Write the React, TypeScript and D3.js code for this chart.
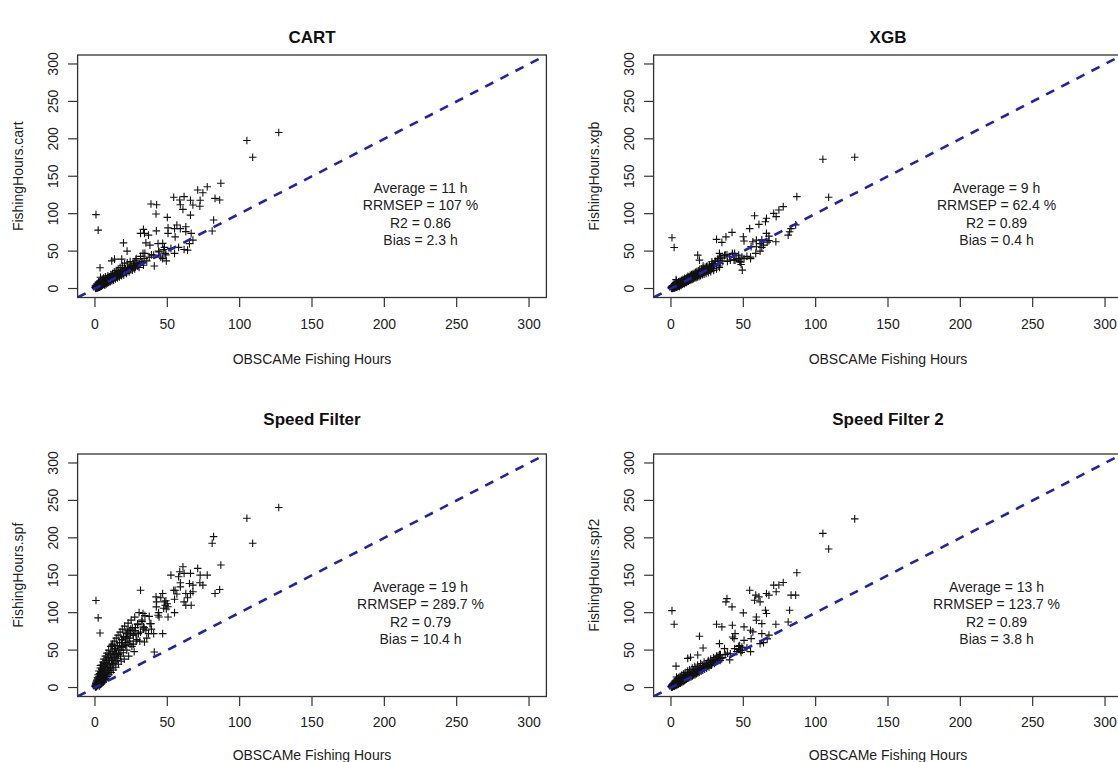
import React from 'react';
import * as d3 from 'd3';

// observed OBSCAMe fishing hours (shared x for every panel)
const obsHours = [
  0.2, 0.4, 0.5, 0.7, 0.8, 1.0, 1.1, 1.3, 1.5, 1.6, 1.8, 2.0, 2.1, 2.3, 2.5, 2.7, 2.9, 3.0, 3.2, 3.4,
  3.6, 3.8, 4.0, 4.2, 4.4, 4.6, 4.9, 5.1, 5.3, 5.6, 5.8, 6.0, 6.3, 6.5, 6.8, 7.0, 7.3, 7.6, 7.9, 8.2,
  8.5, 8.8, 9.1, 9.4, 9.7, 10.0, 10.4, 10.8, 11.2, 11.5, 11.9, 12.3, 12.7, 13.1, 13.5, 14.0, 14.4, 14.9, 15.3, 15.8,
  16.2, 16.7, 17.1, 17.6, 18.1, 18.6, 19.1, 19.6, 20.2, 20.8, 21.4, 22.0, 22.6, 23.3, 24.0, 24.7, 25.5, 26.3, 27.1, 28.0,
  29.0, 30.0,
  0.7, 2.2, 3.5, 3.8, 11.6, 13.5, 18.5, 19.7, 22.2, 24.6, 28.3, 31.5, 33.2, 33.5, 34.2, 35.2, 37, 38, 38.7, 40.6,
  41, 42.2, 42.4, 42.6, 43.6, 44.3, 46.8, 46.8, 48, 48.5, 49.3, 50, 50.5, 50.5, 52.5, 54.4, 55, 55, 55.4, 56.6,
  57.8, 58.6, 59, 59, 60.8, 61.6, 61.6, 62.8, 62.8, 64, 65.3, 66, 66, 66.5, 67.7, 67.7, 71, 72.7, 72.5, 74.6,
  77.6, 81, 82, 83, 86.2, 87, 105, 109, 127,
  31, 32.5, 34, 35.8, 37.5, 39, 44, 45.5, 47.5, 49, 26.5, 27.5, 29.5, 23.5, 21, 16, 12, 8, 5,
  0.3, 0.6, 0.9, 1.2, 1.4, 1.7, 1.9, 2.2, 2.4, 2.6, 2.8, 3.1, 3.3, 3.5, 3.7, 3.9, 4.1, 4.3, 4.5, 4.8,
  5.0, 5.2, 5.5, 5.7, 5.9, 6.2, 6.4, 6.7, 6.9, 7.2, 7.5, 7.8, 8.0, 8.3, 8.6, 8.9, 9.2, 9.5, 9.8, 10.2,
  10.6, 11.0, 11.4, 11.7, 12.1, 12.5, 12.9, 13.3, 13.8, 14.2, 14.7, 15.1, 15.6, 16.0, 16.5, 16.9, 17.4, 17.9, 18.4, 18.9,
  19.4, 19.9, 20.5, 21.1, 21.7, 22.3, 22.9, 23.6, 24.3, 25.0, 25.8, 26.6, 27.5, 28.5, 29.5, 30.5, 31.5, 32.5, 33.5, 34.5,
];

const cartHours = [
  1.5, 0.6, 2.4, 1.1, 3.0, 0.9, 2.2, 4.1, 1.6, 3.3, 2.0, 5.2, 2.7, 1.4, 4.6, 3.1, 6.0, 2.5, 4.8, 3.9,
  7.2, 3.0, 5.5, 4.1, 8.0, 5.0, 6.6, 4.5, 9.1, 5.8, 7.4, 6.2, 10.2, 5.9, 8.3, 7.0, 11.4, 7.5, 9.6, 8.1,
  12.6, 8.9, 10.8, 9.2, 13.9, 10.1, 12.0, 11.3, 15.2, 11.8, 13.6, 12.7, 16.8, 13.9, 15.4, 14.6, 18.3, 15.7, 17.2, 16.4,
  20.0, 17.5, 19.1, 18.4, 21.8, 19.4, 21.0, 20.3, 23.6, 21.9, 24.8, 22.8, 25.7, 24.0, 27.4, 25.3, 29.0, 27.1, 30.6, 29.2,
  32.4, 31.0,
  98.7, 78, 27.7, 15, 37, 39.3, 39.3, 61, 50, 26.8, 38, 73.7, 47, 79, 73.7, 61, 71.4, 58, 113, 44.6,
  30, 99.6, 77, 112, 60, 49, 40, 60.3, 55, 47, 37, 95, 81, 73.7, 53.6, 121.9, 80, 47, 69, 84.8,
  55, 118.3, 112, 80, 105.8, 122.8, 52.2, 82.6, 76, 51.3, 60, 118, 98, 73.7, 111.6, 64.7, 131.7, 118, 110, 128,
  136, 76.8, 91.5, 120.5, 118.3, 140.6, 197.8, 175.4, 208.5,
  33, 36, 40, 37, 42, 45, 50, 42, 52, 45, 31, 34, 30, 28, 26, 22, 17, 12, 8,
  3.5, 0.2, 4.8, 2.0, 6.2, 0.8, 5.0, 3.6, 8.5, 1.5, 6.9, 4.0, 1.8, 9.8, 5.2, 2.6, 11.0, 6.1, 3.0, 8.4,
  12.5, 4.2, 9.0, 6.6, 14.0, 5.1, 10.8, 8.2, 4.5, 15.5, 9.9, 6.0, 13.2, 11.0, 7.4, 17.0, 12.4, 8.0, 15.0, 13.0,
  9.2, 18.5, 14.6, 10.5, 20.0, 16.0, 11.0, 22.0, 17.5, 12.8, 24.0, 19.0, 14.0, 26.0, 21.0, 15.5, 28.0, 22.5, 17.0, 30.5,
  24.0, 18.2, 33.0, 26.0, 20.0, 34.5, 28.0, 22.0, 36.0, 30.0, 24.5, 33.0, 26.0, 40.0, 31.0, 28.0, 43.0, 35.0, 31.0, 47.0,
];

const xgbHours = [
  0.8, 1.4, 0.3, 2.2, 1.0, 3.1, 0.5, 1.9, 3.8, 1.2, 2.6, 0.9, 4.5, 2.0, 3.3, 1.6, 5.2, 2.4, 6.1, 2.9,
  4.0, 5.8, 3.0, 7.0, 4.6, 3.4, 6.8, 4.2, 7.9, 5.0, 3.9, 8.4, 5.9, 7.1, 4.8, 9.2, 6.6, 8.0, 5.7, 10.3,
  7.4, 9.5, 6.9, 11.6, 8.5, 10.6, 8.2, 12.8, 9.9, 12.1, 10.4, 14.2, 11.3, 13.6, 12.0, 15.5, 12.9, 15.0, 14.1, 17.3,
  15.2, 16.9, 15.8, 18.9, 16.7, 19.8, 17.9, 21.2, 18.8, 22.4, 20.3, 23.8, 21.6, 24.9, 22.8, 26.5, 24.1, 27.8, 25.5, 29.4,
  27.0, 31.6,
  67.9, 54.9, 12, 10, 14, 16, 44.6, 38, 30, 29, 35.7, 65.6, 30, 47, 42, 61.6, 44, 69, 45, 42.4,
  38, 75, 47, 46, 38, 38, 44.6, 40, 35, 32, 24.6, 69.2, 63.4, 40, 43, 80, 40, 42, 56, 62.5,
  97.3, 46.9, 55.8, 64.7, 85.7, 60, 50, 55, 65, 58, 89.3, 93.8, 73.7, 62, 70, 64, 100.4, 96, 62.5, 105,
  109.4, 71.4, 75.9, 80, 85, 122.8, 172.8, 121.9, 175.4,
  36, 40, 33, 37, 45, 36, 47, 40, 36, 42, 26, 29, 33, 22, 20, 18, 11, 9, 6,
  2.0, 0.1, 3.2, 0.6, 4.0, 1.1, 3.5, 0.9, 5.5, 2.0, 1.0, 4.8, 2.4, 6.5, 1.9, 5.6, 3.0, 7.8, 2.5, 6.2,
  3.1, 8.9, 4.0, 7.5, 2.8, 9.6, 5.0, 8.8, 4.1, 11.0, 5.6, 10.2, 6.1, 12.4, 7.0, 11.6, 6.4, 13.8, 8.0, 12.9,
  8.1, 14.8, 9.5, 16.2, 9.9, 15.8, 11.0, 17.5, 11.4, 18.6, 12.2, 19.4, 13.1, 20.3, 14.0, 21.6, 14.4, 22.8, 15.6, 23.7,
  16.2, 24.8, 17.0, 26.0, 18.3, 27.1, 19.0, 28.5, 20.2, 30.0, 21.0, 31.2, 22.6, 33.0, 24.0, 36.5, 26.0, 38.0, 28.0, 40.5,
];

const spfHours = [
  1.2, 3.5, 0.8, 5.2, 2.0, 7.5, 1.4, 4.0, 10.2, 2.6, 6.4, 12.5, 3.1, 8.8, 15.0, 4.6, 11.0, 2.2, 18.5, 7.0,
  13.2, 4.2, 21.0, 9.5, 16.0, 5.5, 25.0, 11.8, 19.0, 7.2, 28.5, 14.0, 22.0, 9.0, 32.0, 17.5, 12.0, 26.0, 36.0, 20.0,
  14.5, 30.0, 40.0, 23.0, 17.0, 34.0, 44.0, 26.5, 20.0, 38.0, 48.0, 30.0, 23.5, 42.0, 52.0, 34.0, 27.0, 46.0, 56.0, 38.5,
  31.0, 50.0, 60.0, 42.0, 35.0, 54.0, 64.0, 46.5, 38.0, 58.0, 68.0, 50.0, 74.0, 42.0, 62.0, 78.0, 55.0, 70.0, 48.0, 80.0,
  64.0, 72.0,
  116.2, 93, 72.9, 29.5, 56.4, 45.3, 54.2, 67.6, 76.5, 72, 72, 130, 98.8, 81, 60.8, 76.5, 72, 85.4, 85.4, 72,
  47.4, 121.1, 107.7, 114.4, 96.6, 94.3, 125.6, 72, 114.4, 110, 105, 112, 94.3, 108, 150.2, 130, 118, 100, 130, 125,
  148, 154.7, 134.5, 140, 161.4, 152.5, 114.4, 125.6, 110, 120, 139, 152.5, 125.6, 110, 136.8, 128, 159.2, 150.2, 140, 136.8,
  150.2, 192.7, 201.6, 125.6, 131, 163.6, 226.2, 192.7, 240.5,
  62, 90, 80, 66, 95, 78, 100, 120, 106, 116, 58, 76, 85, 66, 56, 44, 36, 32, 20,
  2.5, 6.0, 1.5, 9.0, 4.0, 13.0, 2.8, 17.0, 6.5, 11.0, 22.0, 5.0, 15.0, 8.5, 26.0, 12.0, 4.6, 19.5, 30.0, 9.0,
  24.0, 14.5, 34.0, 7.5, 20.0, 38.0, 16.5, 28.0, 10.5, 42.0, 23.0, 33.0, 15.0, 46.0, 27.5, 19.0, 40.0, 50.0, 31.0, 22.5,
  44.0, 55.0, 36.0, 26.0, 58.0, 48.0, 32.0, 62.0, 40.0, 52.0, 66.0, 36.0, 56.0, 70.0, 45.0, 60.0, 74.0, 50.0, 64.0, 78.0,
  55.0, 68.0, 82.0, 60.0, 72.0, 66.0, 86.0, 76.0, 58.0, 90.0, 80.0, 70.0, 94.0, 62.0, 84.0, 100.0, 74.0, 88.0, 78.0, 96.0,
];

const spf2Hours = [
  1.0, 0.9, 2.1, 1.6, 3.2, 1.2, 2.6, 4.4, 1.8, 3.0, 5.1, 2.4, 3.6, 1.9, 6.0, 2.8, 4.2, 3.4, 7.0, 2.9,
  5.6, 4.0, 8.1, 3.5, 6.4, 5.0, 9.2, 4.3, 7.5, 5.5, 10.3, 6.1, 8.4, 5.8, 11.5, 7.2, 9.6, 6.8, 12.4, 8.6,
  10.9, 8.0, 13.6, 9.3, 12.0, 10.4, 14.8, 11.2, 13.1, 12.3, 16.0, 12.9, 15.2, 13.8, 17.4, 14.6, 16.9, 15.5, 19.0, 16.4,
  18.8, 17.2, 20.5, 18.3, 21.4, 19.5, 22.8, 20.6, 23.9, 21.8, 25.0, 23.0, 26.4, 24.4, 27.9, 25.8, 29.6, 27.4, 31.2, 29.8,
  33.5, 32.0,
  102.8, 84.5, 28.6, 14, 38.9, 40.5, 43.4, 68.4, 52.8, 32, 35, 84.5, 40, 58.6, 44, 81, 51.9, 114.4, 118.8, 37,
  45, 107.7, 83.2, 67.5, 65.3, 72, 55, 51, 49.6, 47, 50, 99.7, 81, 63, 53, 130, 76.5, 48, 65.3, 74.3,
  116.6, 123.4, 94.3, 89.9, 121.1, 114.4, 58.6, 85.4, 72, 60, 103.3, 125.6, 98.8, 65, 123.4, 70, 136.8, 127.9, 84.5, 137,
  140.4, 87.6, 103.3, 123.4, 123.4, 153.3, 206, 185, 225.3,
  38, 42, 36, 40, 44, 46, 52, 48, 56, 54, 31, 30, 36, 27, 25, 21, 16, 12, 8,
  1.5, 3.0, 0.8, 4.5, 2.2, 5.8, 3.0, 7.0, 2.6, 5.0, 8.8, 3.5, 6.5, 4.0, 10.0, 5.2, 7.6, 4.8, 12.0, 6.0,
  9.0, 6.1, 13.5, 7.0, 10.4, 7.5, 15.0, 8.5, 11.6, 9.0, 16.5, 9.8, 12.8, 10.5, 18.0, 11.2, 14.5, 12.0, 20.0, 12.5,
  16.0, 14.0, 22.0, 14.2, 18.0, 15.5, 24.0, 16.0, 20.5, 17.0, 26.0, 18.0, 22.0, 19.0, 28.0, 20.0, 24.5, 21.0, 30.0, 22.5,
  27.0, 23.5, 32.0, 25.0, 29.5, 26.0, 34.0, 28.0, 31.0, 30.0, 36.0, 31.0, 38.0, 33.0, 40.0, 35.0, 42.0, 37.0, 44.0, 39.0,
];

const axisTicks = [0, 50, 100, 150, 200, 250, 300];
const axisLimits = [-12, 312];

const panelTitles = ['CART', 'XGB', 'Speed Filter', 'Speed Filter 2'];
const yAxisLabels = ['FishingHours.cart', 'FishingHours.xgb', 'FishingHours.spf', 'FishingHours.spf2'];
const xAxisLabel = 'OBSCAMe Fishing Hours';
const statLines = [
  ['Average = 11 h', 'RRMSEP = 107 %', 'R2 = 0.86', 'Bias = 2.3 h'],
  ['Average = 9 h', 'RRMSEP = 62.4 %', 'R2 = 0.89', 'Bias = 0.4 h'],
  ['Average = 19 h', 'RRMSEP = 289.7 %', 'R2 = 0.79', 'Bias = 10.4 h'],
  ['Average = 13 h', 'RRMSEP = 123.7 %', 'R2 = 0.89', 'Bias = 3.8 h'],
];
const predicted = [cartHours, xgbHours, spfHours, spf2Hours];
// where the stats text block is centred, in data units
const statAnchor = [225, 99.5];

const FONT = 'Liberation Sans, Arial, Helvetica, sans-serif';
const W = 1118;
const H = 762;

// plot boxes in pixels
const boxes = [
  { l: 77.6, r: 546.4, t: 55, b: 297.5, titleY: 43, tickY: 328.5, labY: 364 },
  { l: 653.6, r: 1122.4, t: 55, b: 297.5, titleY: 43, tickY: 328.5, labY: 364 },
  { l: 77.6, r: 546.4, t: 454, b: 696.5, titleY: 425, tickY: 727, labY: 760 },
  { l: 653.6, r: 1122.4, t: 454, b: 696.5, titleY: 425, tickY: 727, labY: 760 },
];

const Panel = ({ i }: { i: number }) => {
  const bx = boxes[i];
  const x = d3.scaleLinear().domain(axisLimits).range([bx.l, bx.r]);
  const y = d3.scaleLinear().domain(axisLimits).range([bx.b, bx.t]);
  const ys = predicted[i];
  const diag = d3.line<number>().x((d) => x(d)).y((d) => y(d))(axisLimits) || '';
  const cx = (bx.l + bx.r) / 2;
  const cy = (bx.t + bx.b) / 2;
  const s = 3.8;
  const clipId = `clip${i}`;
  const lineGap = 17.3;

  return (
    <g>
      <defs>
        <clipPath id={clipId}>
          <rect x={bx.l} y={bx.t} width={bx.r - bx.l} height={bx.b - bx.t} />
        </clipPath>
      </defs>
      <text x={cx} y={bx.titleY} textAnchor="middle" fontWeight="bold" fontSize={17} fill="#111">
        {panelTitles[i]}
      </text>
      <g clipPath={`url(#${clipId})`}>
        {obsHours.map((o, k) => (
          <path
            key={k}
            d={`M${x(o) - s},${y(ys[k])}h${2 * s}M${x(o)},${y(ys[k]) - s}v${2 * s}`}
            stroke="#111"
            strokeWidth={1.1}
            fill="none"
          />
        ))}
        <path d={diag} stroke="#2323a6" strokeWidth={2.6} strokeDasharray="9,8" fill="none" />
      </g>
      <rect x={bx.l} y={bx.t} width={bx.r - bx.l} height={bx.b - bx.t} fill="none" stroke="#333" strokeWidth={1.3} />
      {axisTicks.map((t) => (
        <g key={`x${t}`}>
          <line x1={x(t)} x2={x(t)} y1={bx.b} y2={bx.b + 9.5} stroke="#333" strokeWidth={1.2} />
          <text x={x(t)} y={bx.tickY} textAnchor="middle" fontSize={14} fill="#222">
            {t}
          </text>
        </g>
      ))}
      {axisTicks.map((t) => (
        <g key={`y${t}`}>
          <line x1={bx.l} x2={bx.l - 9.5} y1={y(t)} y2={y(t)} stroke="#333" strokeWidth={1.2} />
          <text
            transform={`translate(${bx.l - 20},${y(t)}) rotate(-90)`}
            textAnchor="middle"
            fontSize={14}
            fill="#222"
          >
            {t}
          </text>
        </g>
      ))}
      <text x={cx} y={bx.labY} textAnchor="middle" fontSize={14} fill="#222">
        {xAxisLabel}
      </text>
      <text transform={`translate(${bx.l - 55},${cy}) rotate(-90)`} textAnchor="middle" fontSize={14} fill="#222">
        {yAxisLabels[i]}
      </text>
      {statLines[i].map((ln, k) => (
        <text
          key={ln}
          x={x(statAnchor[0])}
          y={y(statAnchor[1]) + (k - 1.5) * lineGap + 5}
          textAnchor="middle"
          fontSize={14}
          fill="#222"
        >
          {ln}
        </text>
      ))}
    </g>
  );
};

export default function App() {
  return (
    <svg
      width={W}
      height={H}
      style={{ position: 'absolute', left: 0, top: 0, background: '#fff', fontFamily: FONT }}
    >
      <rect width={W} height={H} fill="#fff" />
      {[0, 1, 2, 3].map((i) => (
        <Panel key={i} i={i} />
      ))}
    </svg>
  );
}
